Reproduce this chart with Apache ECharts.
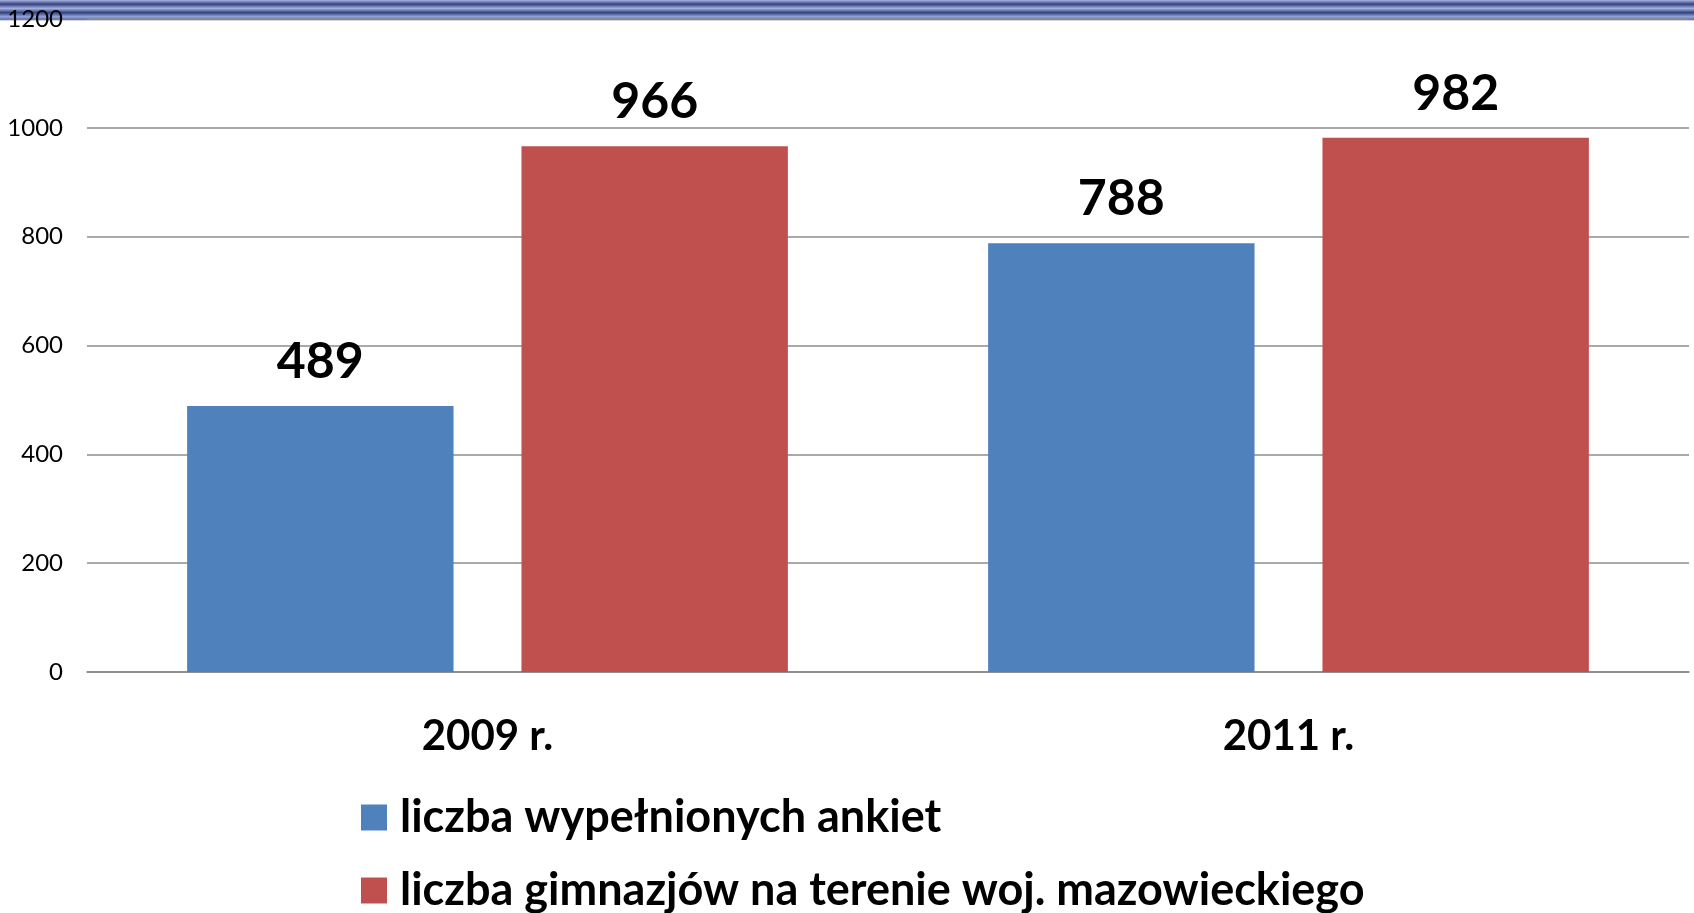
<!DOCTYPE html>
<html>
<head>
<meta charset="utf-8">
<style>
  html, body { margin: 0; padding: 0; background: #fff; }
  #chart { width: 1694px; height: 913px; }
</style>
<script src="https://cdn.jsdelivr.net/npm/echarts@6/dist/echarts.min.js"></script>
</head>
<body>
<div id="chart"></div>
<script>
  var categories = ['2009 r.', '2011 r.'];
  var seriesNames = ['liczba wypełnionych ankiet', 'liczba gimnazjów na terenie woj. mazowieckiego'];
  var ankiety = [489, 788];
  var gimnazja = [966, 982];

  var chart = echarts.init(document.getElementById('chart'));

  var font = 'Lato, "Open Sans", sans-serif';

  // one legend per line, stacked like in the slide
  function legendRow(name, top) {
    return {
      left: 361,
      top: top,
      padding: 0,
      icon: 'rect',
      itemWidth: 26,
      itemHeight: 26,
      itemGap: 10,
      textStyle: { fontSize: 45, fontWeight: 'bold', color: '#000', fontFamily: font, padding: [0, 0, 0, 8] },
      data: [name]
    };
  }

  var valueLabel = { show: true, position: 'top', distance: 19, fontSize: 50, fontWeight: 'bold', color: '#000', fontFamily: font };

  var option = {
    animation: false,
    textStyle: { fontFamily: font },
    graphic: [{
      type: 'rect',
      z: -10,
      shape: { x: 0, y: 0, width: 1694, height: 21 },
      style: {
        fill: new echarts.graphic.LinearGradient(0, 0, 0, 1, [
          { offset: 0, color: '#a9b3e0' },
          { offset: 0.2, color: '#34427f' },
          { offset: 0.4, color: '#a3b0e0' },
          { offset: 0.6, color: '#34427f' },
          { offset: 0.8, color: '#93a6e2' },
          { offset: 0.92, color: '#626c8e' },
          { offset: 1, color: '#ffffff' }
        ])
      }
    }],
    grid: { left: 87, right: 5, top: 19, bottom: 913 - 672 },
    legend: [legendRow(seriesNames[0], 795), legendRow(seriesNames[1], 868)],
    xAxis: {
      type: 'category',
      data: categories,
      axisTick: { show: false },
      axisLine: { lineStyle: { color: '#868686', width: 1.5 } },
      axisLabel: { fontSize: 42, fontWeight: 'bold', color: '#000', margin: 43, fontFamily: font }
    },
    yAxis: {
      type: 'value',
      min: 0,
      max: 1200,
      interval: 200,
      axisLine: { show: false },
      axisTick: { show: false },
      axisLabel: { fontSize: 24, color: '#000', margin: 24, fontFamily: font, formatter: function (v) { return String(v); } },
      splitLine: { lineStyle: { color: '#8c8c8c', width: 1.5 } }
    },
    series: [{
      name: seriesNames[0],
      type: 'bar',
      data: ankiety,
      barGap: '25.5%',
      barCategoryGap: '25%',
      itemStyle: { color: '#4F81BD' },
      label: valueLabel
    }, {
      name: seriesNames[1],
      type: 'bar',
      data: gimnazja,
      barGap: '25.5%',
      barCategoryGap: '25%',
      itemStyle: { color: '#C0504D' },
      label: valueLabel
    }]
  };

  chart.setOption(option);
</script>
</body>
</html>
